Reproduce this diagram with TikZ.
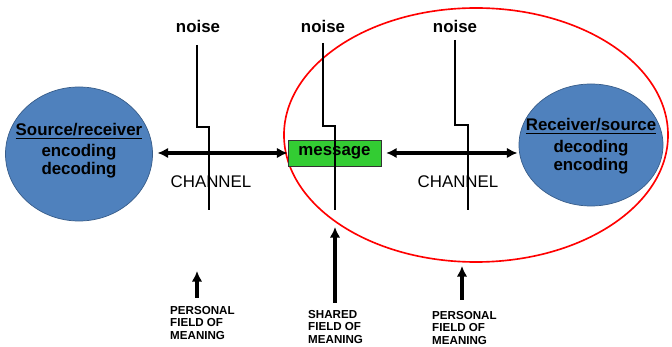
\documentclass[tikz,border=0pt]{standalone}
\usepackage{fontspec}
\setmainfont{Liberation Sans}
\usetikzlibrary{arrows.meta,shapes.geometric}
\definecolor{partyblue}{RGB}{79,129,189}
\definecolor{partyedge}{RGB}{56,93,138}
\definecolor{msggreen}{RGB}{51,204,51}
\newcommand{\bigfont}{\fontsize{14.4}{15.4}\selectfont}
\newcommand{\smallfont}{\fontsize{9.9}{10.8}\selectfont}

\begin{document}
\begin{tikzpicture}[x=0.03cm,y=-0.03cm]
\tikzstyle{every node}+=[inner sep=0pt]
\tikzstyle{party}=[ellipse,draw=partyedge,fill=partyblue,line width=0.6pt]
\tikzstyle{flow}=[line width=2.6pt,{Latex[length=9pt,width=9pt]}-{Latex[length=9pt,width=9pt]}]
\tikzstyle{rise}=[line width=2.6pt,-{Latex[length=9pt,width=9pt]}]
\tikzstyle{noiseline}=[line width=2pt]
\tikzstyle{field}=[align=left,anchor=north west,font=\smallfont\bfseries]
\useasboundingbox (0,0) rectangle (672,347);
% shared field
\node [ellipse,draw=red,line width=1.4pt,minimum width=11.52cm,minimum height=7.62cm] (shared) at (476,135) {};
% the two parties
\node [party,minimum width=4.41cm,minimum height=4.02cm] (src) at (79,154) {};
\node [party,minimum width=4.32cm,minimum height=3.66cm] (rcv) at (591,145) {};
\node [font=\bigfont\bfseries] (srct) at (79,131) {\underline{Source/receiver}};
\node [font=\bigfont\bfseries,align=center] (srcs) at (79,161) {encoding\\decoding};
\node [font=\bigfont\bfseries] (rcvt) at (591,126) {\underline{Receiver/source}};
\node [font=\bigfont\bfseries,align=center] (rcvs) at (591,157) {decoding\\encoding};
% message
\node [draw=black!80,fill=msggreen,line width=0.8pt,minimum width=2.79cm,minimum height=0.78cm,font=\bigfont\bfseries] (msg) at (334.5,153) {message};
\draw [flow,shorten <=4pt] (src.east |- msg.west) -- (msg.west);
\draw [flow,shorten <=4pt,shorten >=1pt] (msg.east) -- (rcv.west |- msg.east);
% noise
\node [font=\bigfont\bfseries] (n1) at (198,26) {noise};
\node [font=\bigfont\bfseries] (n2) at (323,26) {noise};
\node [font=\bigfont\bfseries] (n3) at (455,26) {noise};
\draw [noiseline] (197,45) -- (197,127) -- (209,127) -- (209,210);
\draw [noiseline] (323,43) -- (323,126) -- (335,126) -- (335,210);
\draw [noiseline] (455,40) -- (455,125) -- (468,125) -- (468,210);
\node [font=\bigfont] (ch1) at (211,182) {CHANNEL};
\node [font=\bigfont] (ch2) at (458,182) {CHANNEL};
% fields of meaning
\coordinate (f1) at (197,298);
\coordinate (f2) at (335,303);
\coordinate (f3) at (462,300);
\draw [rise] (f1) -- (197,271);
\draw [rise] (f2) -- (335,227);
\draw [rise] (f3) -- (462,266);
\node [field] (p1) at (170,306) {PERSONAL\\FIELD OF\\MEANING};
\node [field] (p2) at (308,310) {SHARED\\FIELD OF\\MEANING};
\node [field] (p3) at (432,311) {PERSONAL\\FIELD OF\\MEANING};
\end{tikzpicture}
\end{document}
